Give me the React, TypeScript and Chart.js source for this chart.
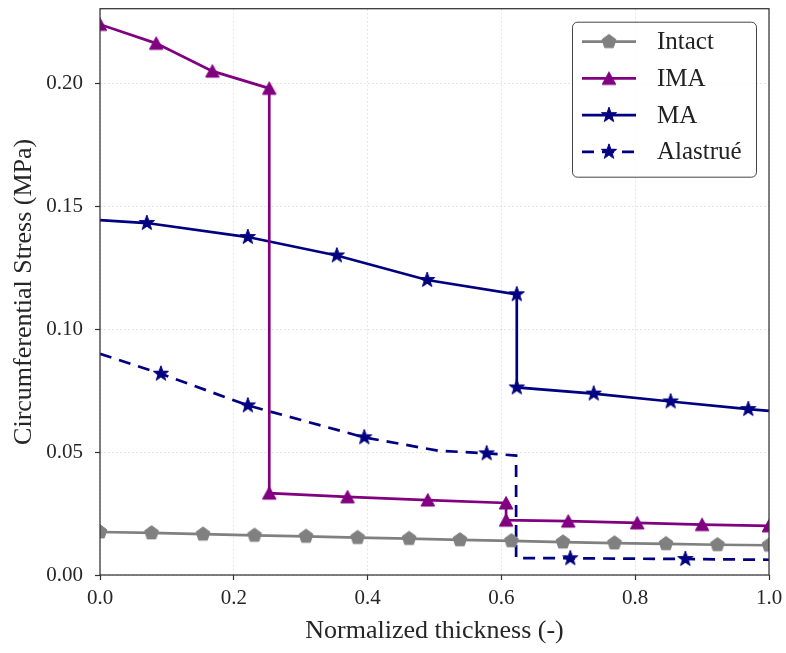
import React, { useEffect, useRef } from 'react';
import { Chart, registerables } from 'chart.js';

Chart.register(...registerables);

// ---------------- data ----------------
const xIntact = [0, 0.077, 0.154, 0.231, 0.308, 0.385, 0.462, 0.538, 0.615, 0.692, 0.769, 0.846, 0.923, 1.0];
const yIntact = [0.0175, 0.0171, 0.0166, 0.0161, 0.0157, 0.0152, 0.0148, 0.0143, 0.0139, 0.0134, 0.013, 0.0127, 0.0123, 0.0121];
const mIntact = [1, 1, 1, 1, 1, 1, 1, 1, 1, 1, 1, 1, 1, 1];

const xIMA = [0, 0.084, 0.168, 0.253, 0.253, 0.37, 0.49, 0.607, 0.607, 0.7, 0.803, 0.9, 1.0];
const yIMA = [0.224, 0.2163, 0.205, 0.198, 0.0333, 0.0318, 0.0305, 0.0293, 0.0223, 0.0219, 0.0212, 0.0205, 0.02];
const mIMA = [1, 1, 1, 1, 1, 1, 1, 1, 1, 1, 1, 1, 1];

const xMA = [0, 0.07, 0.221, 0.354, 0.489, 0.623, 0.623, 0.738, 0.853, 0.969, 1.0];
const yMA = [0.1444, 0.1432, 0.1375, 0.13, 0.12, 0.1142, 0.0763, 0.0738, 0.0706, 0.0675, 0.0668];
const mMA = [0, 1, 1, 1, 1, 1, 1, 1, 1, 1, 0];

const xAl = [0, 0.091, 0.221, 0.395, 0.505, 0.578, 0.622, 0.622, 0.703, 0.875, 1.0];
const yAl = [0.09, 0.0819, 0.069, 0.056, 0.0506, 0.0495, 0.0486, 0.0069, 0.0068, 0.0065, 0.0062];
const mAl = [0, 1, 1, 1, 0, 1, 0, 0, 1, 1, 0];

const seriesNames = ['Intact', 'IMA', 'MA', 'Alastrué'];
const xTickStep = 0.2;
const yTickStep = 0.05;
const yMax = 0.2304;

const FONT = "'Liberation Serif', 'DejaVu Serif', serif";
const GRAY = '#808080';
const PURPLE = '#800080';
const NAVY = '#000080';

type Kind = 'pent' | 'tri' | 'star';

function makeMarker(kind: Kind, color: string): HTMLCanvasElement {
  const c = document.createElement('canvas');
  c.width = 20;
  c.height = 20;
  const g = c.getContext('2d')!;
  g.translate(10, 10);
  g.fillStyle = color;
  g.strokeStyle = color;
  g.lineWidth = 1;
  g.beginPath();
  if (kind === 'tri') {
    g.moveTo(0, -6.5);
    g.lineTo(6.8, 6);
    g.lineTo(-6.8, 6);
  } else if (kind === 'pent') {
    const r = 7.3;
    for (let i = 0; i < 5; i++) {
      const a = -Math.PI / 2 + (i * 2 * Math.PI) / 5;
      const px = r * Math.cos(a);
      const py = r * Math.sin(a);
      if (i === 0) g.moveTo(px, py);
      else g.lineTo(px, py);
    }
  } else {
    const ro = 8;
    const ri = 3.2;
    for (let i = 0; i < 10; i++) {
      const a = -Math.PI / 2 + (i * Math.PI) / 5;
      const r = i % 2 === 0 ? ro : ri;
      const px = r * Math.cos(a);
      const py = r * Math.sin(a);
      if (i === 0) g.moveTo(px, py);
      else g.lineTo(px, py);
    }
  }
  g.closePath();
  g.fill();
  g.stroke();
  return c;
}

function pts(xs: number[], ys: number[]) {
  return xs.map((x, i) => ({ x, y: ys[i] }));
}

export default function App() {
  const ref = useRef<HTMLCanvasElement | null>(null);

  useEffect(() => {
    document.body.style.margin = '0';
    const canvas = ref.current!;
    const mk = {
      intact: makeMarker('pent', GRAY),
      ima: makeMarker('tri', PURPLE),
      ma: makeMarker('star', NAVY),
      al: makeMarker('star', NAVY),
    };

    const legendItems = [
      { label: seriesNames[0], color: GRAY, marker: mk.intact, dash: [] as number[] },
      { label: seriesNames[1], color: PURPLE, marker: mk.ima, dash: [] as number[] },
      { label: seriesNames[2], color: NAVY, marker: mk.ma, dash: [] as number[] },
      { label: seriesNames[3], color: NAVY, marker: mk.al, dash: [12, 8] },
    ];

    const framePlugin = {
      id: 'frame',
      afterDatasetsDraw(chart: any) {
        const { ctx, chartArea: a } = chart;
        ctx.save();
        ctx.strokeStyle = '#333';
        ctx.lineWidth = 1.25;
        ctx.strokeRect(a.left, a.top, a.right - a.left, a.bottom - a.top);
        ctx.restore();
      },
    };

    const legendPlugin = {
      id: 'customLegend',
      afterDraw(chart: any) {
        const ctx: CanvasRenderingContext2D = chart.ctx;
        const a = chart.chartArea;
        const bw = 184;
        const bh = 155;
        const bx = a.right - 13 - bw;
        const by = a.top + 13;
        ctx.save();
        ctx.beginPath();
        (ctx as any).roundRect(bx + 0.5, by + 0.5, bw, bh, 5);
        ctx.fillStyle = 'rgba(255,255,255,0.8)';
        ctx.fill();
        ctx.strokeStyle = '#444';
        ctx.lineWidth = 1;
        ctx.stroke();
        const rowH = 36.7;
        legendItems.forEach((it, i) => {
          const cy = by + 20 + i * rowH;
          const lx0 = bx + 10;
          const lx1 = bx + 64;
          ctx.beginPath();
          ctx.setLineDash(it.dash);
          ctx.strokeStyle = it.color;
          ctx.lineWidth = 2.7;
          ctx.moveTo(lx0, cy);
          ctx.lineTo(lx1, cy);
          ctx.stroke();
          ctx.setLineDash([]);
          const mx = (lx0 + lx1) / 2;
          ctx.drawImage(it.marker, mx - 10, cy - 10);
          ctx.fillStyle = '#222';
          ctx.font = `25px ${FONT}`;
          ctx.textBaseline = 'middle';
          ctx.textAlign = 'left';
          ctx.fillText(it.label, bx + 85, cy + 1);
        });
        ctx.restore();
      },
    };

    const mkDs = (label: string, xs: number[], ys: number[], mask: number[], color: string, img: HTMLCanvasElement, dash: number[]) => ({
      label,
      data: pts(xs, ys),
      borderColor: color,
      backgroundColor: color,
      borderWidth: 2.7,
      borderDash: dash,
      pointStyle: img,
      pointRadius: mask.map((m) => (m ? 6 : 0)),
      pointHoverRadius: mask.map((m) => (m ? 6 : 0)),
      tension: 0,
      fill: false,
      clip: 0,
    });

    const chart = new Chart(canvas, {
      type: 'line',
      data: {
        datasets: [
          mkDs(seriesNames[0], xIntact, yIntact, mIntact, GRAY, mk.intact, []),
          mkDs(seriesNames[1], xIMA, yIMA, mIMA, PURPLE, mk.ima, []),
          mkDs(seriesNames[2], xMA, yMA, mMA, NAVY, mk.ma, []),
          mkDs(seriesNames[3], xAl, yAl, mAl, NAVY, mk.al, [12, 8]),
        ] as any,
      },
      options: {
        animation: false,
        responsive: false,
        devicePixelRatio: 1,
        layout: { padding: { top: 7, right: 17, left: 0, bottom: 0 } },
        plugins: { legend: { display: false }, tooltip: { enabled: false } },
        scales: {
          x: {
            type: 'linear',
            min: 0,
            max: 1,
            afterFit: (s: any) => {
              s.height = 78;
              s.paddingLeft = 0;
              s.paddingRight = 0;
            },
            ticks: {
              stepSize: xTickStep,
              includeBounds: false,
              maxRotation: 0,
              autoSkip: false,
              padding: 6,
              color: '#262626',
              font: { family: FONT, size: 21 },
              callback: (v: any) => Number(v).toFixed(1),
            },
            grid: {
              color: 'rgba(0,0,0,0.13)',
              lineWidth: 0.8,
              drawTicks: true,
              tickLength: 5,
              tickColor: '#333',
              tickWidth: 1.2,
              tickBorderDash: [],
            },
            border: { display: false, dash: [2, 2] },
            title: {
              display: true,
              text: 'Normalized thickness (-)',
              color: '#262626',
              font: { family: FONT, size: 26 },
              padding: { top: 0, bottom: 6 },
            },
          },
          y: {
            type: 'linear',
            min: 0,
            max: yMax,
            afterFit: (s: any) => {
              s.width = 100;
              s.paddingTop = 0;
              s.paddingBottom = 0;
            },
            ticks: {
              stepSize: yTickStep,
              includeBounds: false,
              autoSkip: false,
              padding: 12,
              color: '#262626',
              font: { family: FONT, size: 21 },
              callback: (v: any) => Number(v).toFixed(2),
            },
            grid: {
              color: 'rgba(0,0,0,0.13)',
              lineWidth: 0.8,
              drawTicks: true,
              tickLength: 5,
              tickColor: '#333',
              tickWidth: 1.2,
              tickBorderDash: [],
            },
            border: { display: false, dash: [2, 2] },
            title: {
              display: true,
              text: 'Circumferential Stress (MPa)',
              color: '#262626',
              font: { family: FONT, size: 26 },
              padding: { top: 9, bottom: 0 },
            },
          },
        },
      } as any,
      plugins: [framePlugin, legendPlugin],
    });

    return () => {
      chart.destroy();
    };
  }, []);

  return (
    <div style={{ width: 786, height: 653 }}>
      <canvas ref={ref} width={786} height={653} style={{ display: 'block', width: 786, height: 653 }} />
    </div>
  );
}
